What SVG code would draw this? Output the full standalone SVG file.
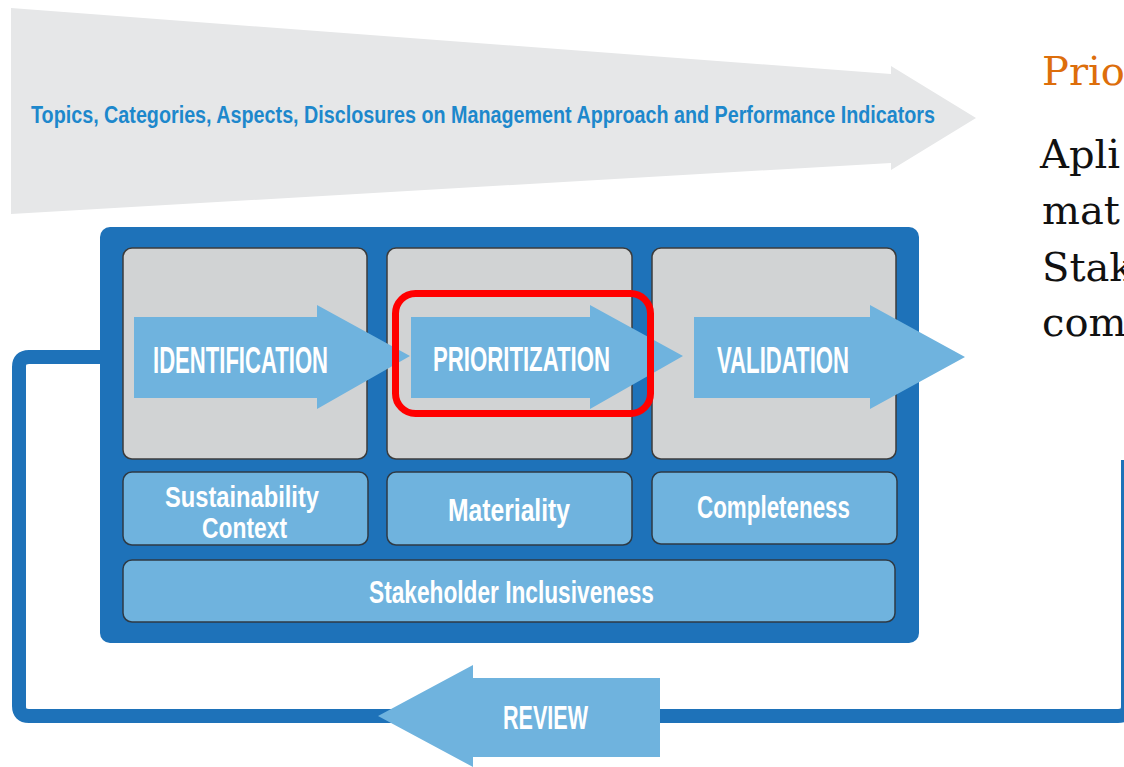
<svg xmlns="http://www.w3.org/2000/svg" width="1124" height="767" viewBox="0 0 1124 767">
<style>
.lbl{font-family:"Liberation Sans Narrow","Liberation Sans",Arial,sans-serif;font-weight:bold;fill:#ffffff;text-anchor:middle}
.card{fill:#d1d3d4;stroke:#3c3c3c;stroke-width:1.5}
.sub{fill:#6fb3de;stroke:#2f3a44;stroke-width:1.5}
.arrow{fill:#6fb3de}
.serif{font-family:"DejaVu Serif","Liberation Serif",Georgia,serif;font-size:40px}
</style>
<rect width="1124" height="767" fill="#ffffff"/>
<g id="topics">
<polygon points="11,8 891,74 891,66 976,118 891,170 891,163 11,214" fill="#e6e7e8"/>
<text x="31" y="123" font-family="'Liberation Sans Narrow','Liberation Sans',Arial,sans-serif" font-weight="bold" font-size="23" fill="#1d88cc" textLength="904" lengthAdjust="spacingAndGlyphs">Topics, Categories, Aspects, Disclosures on Management Approach and Performance Indicators</text>
</g>
<g id="connectors">
<path d="M100,357 H29 Q19,357 19,367 V706 Q19,716 29,716 H1118 Q1128,716 1128,706 V460" fill="none" stroke="#1e72b9" stroke-width="14"/>
</g>
<g id="frame">
<rect x="100" y="227" width="819" height="416" rx="10" fill="#1e72b9"/>
</g>
<g id="card-identification"><rect class="card" x="123" y="248" width="244" height="211" rx="9"/></g>
<g id="card-prioritization"><rect class="card" x="387" y="248" width="245" height="211" rx="9"/></g>
<g id="card-validation"><rect class="card" x="652" y="248" width="244" height="211" rx="9"/></g>
<g id="sustainability">
<rect class="sub" x="123" y="472" width="245" height="73" rx="9"/>
<text class="lbl" x="242" y="507" font-size="29" textLength="154" lengthAdjust="spacingAndGlyphs">Sustainability</text>
<text class="lbl" x="244.5" y="538" font-size="29" textLength="85" lengthAdjust="spacingAndGlyphs">Context</text>
</g>
<g id="materiality">
<rect class="sub" x="387" y="472" width="245" height="73" rx="9"/>
<text class="lbl" x="509" y="521" font-size="31" textLength="122" lengthAdjust="spacingAndGlyphs">Materiality</text>
</g>
<g id="completeness">
<rect class="sub" x="652" y="472" width="245" height="72" rx="9"/>
<text class="lbl" x="773.5" y="518" font-size="31" textLength="153" lengthAdjust="spacingAndGlyphs">Completeness</text>
</g>
<g id="stakeholder">
<rect class="sub" x="123" y="560" width="772" height="62" rx="9"/>
<text class="lbl" x="511.5" y="603" font-size="31" textLength="285" lengthAdjust="spacingAndGlyphs">Stakeholder Inclusiveness</text>
</g>
<g id="identification">
<path class="arrow" d="M134,317 H317 V305 L410,356 L317,409 V398 H134 Z"/>
<text class="lbl" x="240.5" y="373" font-size="36" textLength="175" lengthAdjust="spacingAndGlyphs">IDENTIFICATION</text>
</g>
<g id="prioritization">
<path class="arrow" d="M411,317 H590 V305 L683,356 L590,409 V398 H411 Z"/>
<text class="lbl" x="521.5" y="371" font-size="35" textLength="177" lengthAdjust="spacingAndGlyphs">PRIORITIZATION</text>
</g>
<g id="validation">
<path class="arrow" d="M694,317 H870 V305 L965,357 L870,409 V398 H694 Z"/>
<text class="lbl" x="783" y="373" font-size="36" textLength="132" lengthAdjust="spacingAndGlyphs">VALIDATION</text>
</g>
<g id="highlight">
<rect x="395.5" y="293.5" width="255" height="120" rx="20" fill="none" stroke="#ff0000" stroke-width="7"/>
</g>
<g id="review">
<path class="arrow" d="M660,678 H473 V665 L378,716 L473,767 V757 H660 Z"/>
<text class="lbl" x="545.5" y="729" font-size="33" textLength="85" lengthAdjust="spacingAndGlyphs">REVIEW</text>
</g>
<g id="side-text">
<text class="serif" x="1042" y="85" fill="#dd6e0b">Prio</text>
<text class="serif" x="1040" y="168" fill="#111111">Apli</text>
<text class="serif" x="1042" y="224" fill="#111111">mat</text>
<text class="serif" x="1042" y="281" fill="#111111">Stak</text>
<text class="serif" x="1042" y="336" fill="#111111">com</text>
</g>
</svg>
